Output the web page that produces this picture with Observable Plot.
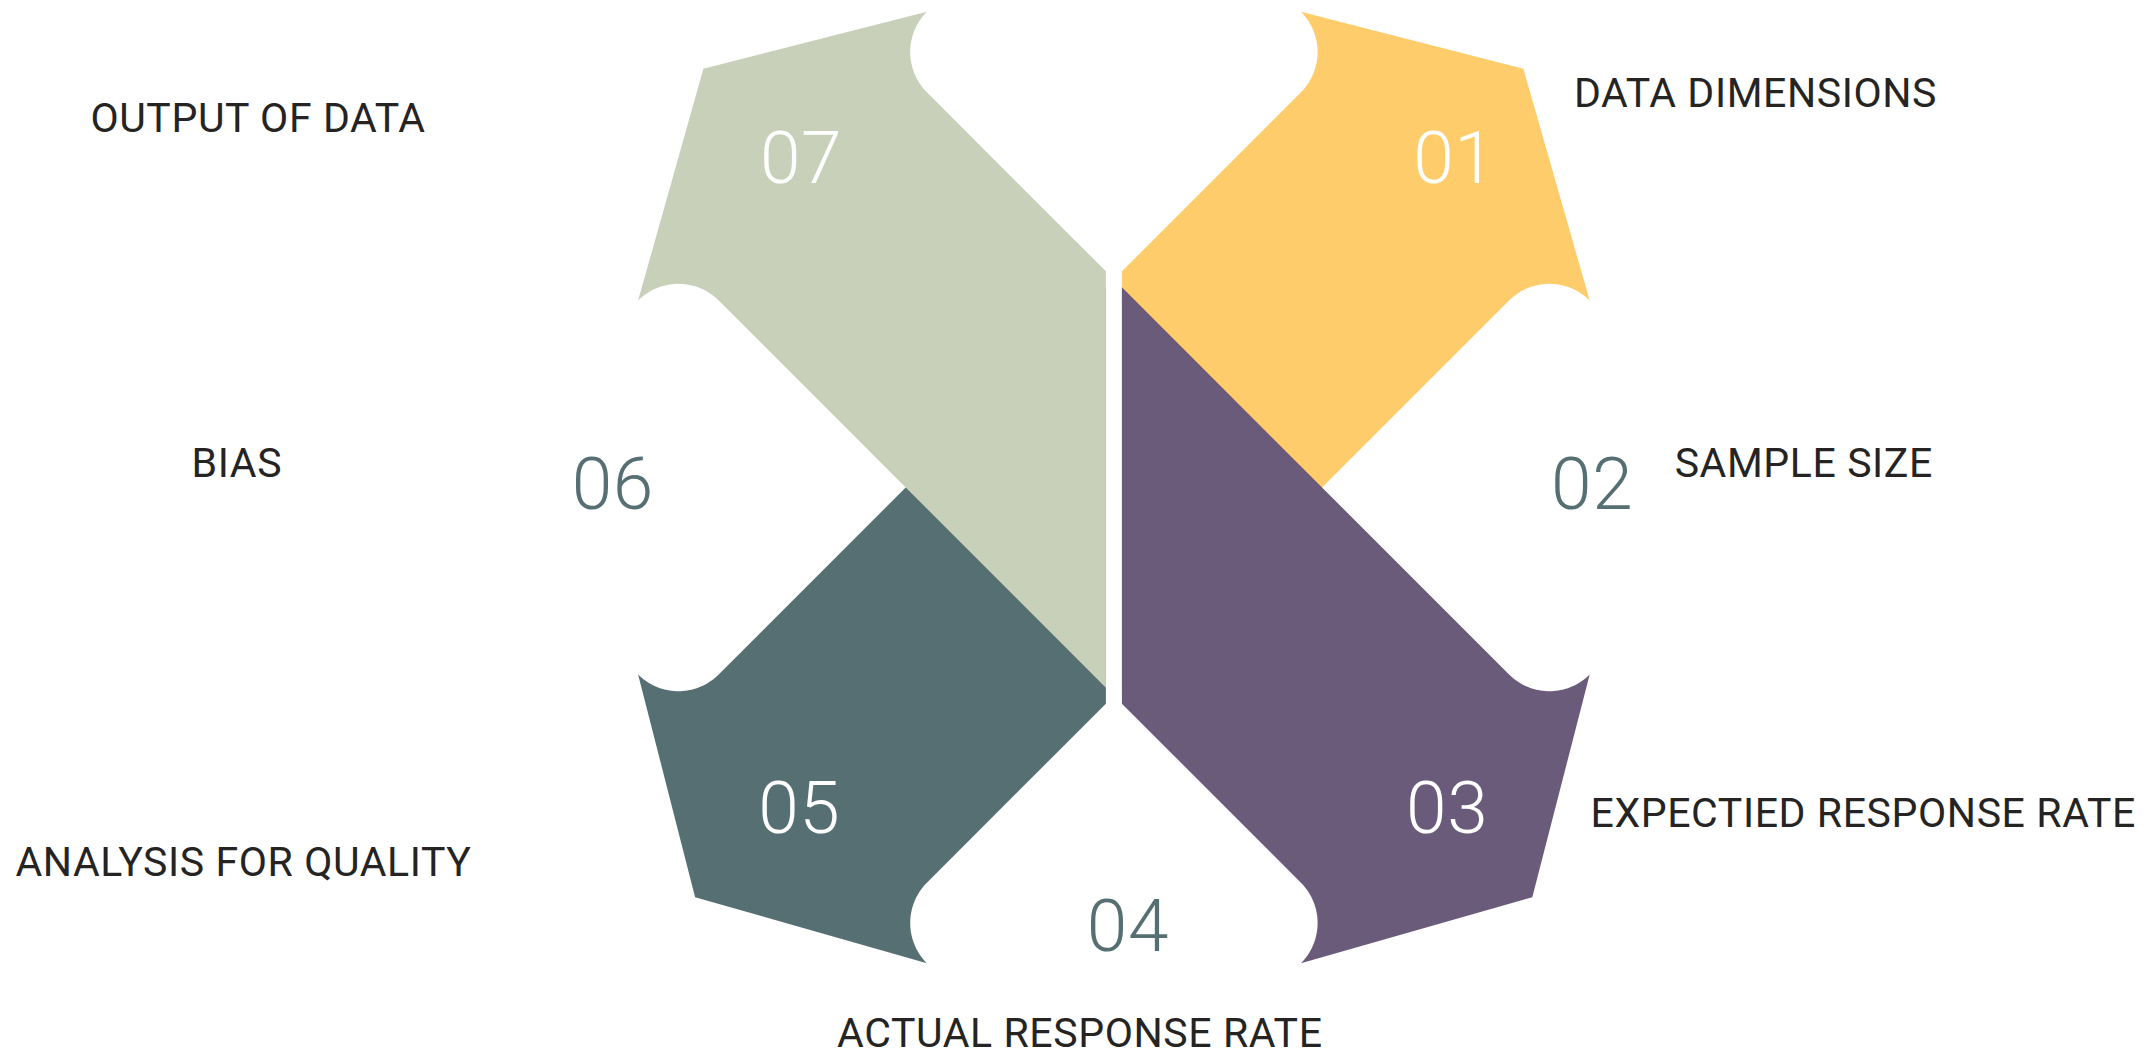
<!DOCTYPE html>
<html><head><meta charset="utf-8">
<script src="https://cdn.jsdelivr.net/npm/d3@7"></script>
<script src="https://cdn.jsdelivr.net/npm/@observablehq/plot@0.6"></script>
<style>html,body{margin:0;padding:0;background:#fff;} #chart svg{display:block}</style>
</head><body><div id="chart"></div>
<script>
// ---- Pieces (four petals of the diagram) ----
const pieceIds    = ["05", "01", "07", "03"];            // drawing order (lower layer first)
const pieceColors = ["#566F73", "#FFCC6B", "#C8D0B9", "#6B5B7A"];
const pieceSignX  = [-1, 1, -1, 1];
const pieceSignY  = [-1, 1, 1, -1];
const pieceCornerU = [418.8, 409.5, 410.5, 418.4];        // outer corner, in the petal's own frame
const pieceCornerV = [409.7, 418.7, 418.7, 409.7];
// notch (white circular bite) and centre gap
const notchCenterU = 146.7, notchCenterV = 435.5, notchRadius = 57;
const innerHalfGap = 8;

// ---- Step numbers ----
const numLabels = ["01", "02", "03", "04", "05", "06", "07"];
const numX      = [299.3, 437.2, 292.2, -27.1, -355.7, -542.2, -353.9];
const numY      = [304.3, -21.3, -345.3, -463.7, -345.3, -21.3, 304.3];
const numColors = ["#FFFFFF", "#566F73", "#FFFFFF", "#566F73", "#FFFFFF", "#566F73", "#FFFFFF"];

// ---- Step captions ----
const capTexts = ["DATA DIMENSIONS", "SAMPLE SIZE", "EXPECTIED RESPONSE RATE", "ACTUAL RESPONSE RATE",
                  "ANALYSIS FOR QUALITY", "BIAS", "OUTPUT OF DATA"];
const capX = [641.6, 689.9, 749.3, -34.1, -870.4, -877.1, -855.9];
const capY = [380.3, 10.3, -339.7, -559.7, -388.7, 10.3, 355.3];

// build petal outlines
function arc(cu, cv, r, a0, a1, n) {
  const out = [];
  for (let k = 0; k <= n; k++) {
    const t = (a0 + (a1 - a0) * k / n) * Math.PI / 180;
    out.push([cu + r * Math.cos(t), cv + r * Math.sin(t)]);
  }
  return out;
}
const petals = pieceIds.map((id, i) => {
  const d = notchCenterV - notchCenterU - 2 * notchRadius * Math.SQRT1_2;
  const g = innerHalfGap;
  const pts = [
    ...arc(notchCenterU, notchCenterV, notchRadius, 45, -45, 40),
    [g, g + d], [g, g - d],
    ...arc(notchCenterV, notchCenterU, notchRadius, 135, 45, 40),
    [pieceCornerU[i], pieceCornerV[i]]
  ];
  return {id, color: pieceColors[i], points: pts.map(([u, v]) => ({x: pieceSignX[i] * u, y: pieceSignY[i] * v}))};
});
const nums = numLabels.map((t, i) => ({t, x: numX[i], y: numY[i], c: numColors[i]}));
const caps = capTexts.map((t, i) => ({t, x: capX[i], y: capY[i]}));

const FONT = "Roboto, 'Noto Sans', sans-serif";
const chart = Plot.plot({
  width: 2154, height: 1053,
  margin: 0,
  style: {background: "#ffffff", overflow: "visible", letterSpacing: "0.6px"},
  x: {domain: [-1113.4, 1040.6], range: [0, 2154], axis: null},
  y: {domain: [-566, 487], range: [1053, 0], axis: null},
  marks: [
    ...petals.map(p => Plot.line(p.points, {x: "x", y: "y", fill: p.color, stroke: "none", curve: "linear-closed"})),
    Plot.text(nums, {x: "x", y: "y", text: "t", fill: "c", textAnchor: "start", lineAnchor: "bottom",
      fontSize: 73, fontWeight: 300, fontFamily: FONT}),
    Plot.text(caps, {x: "x", y: "y", text: "t", fill: "#252423", textAnchor: "middle", lineAnchor: "bottom",
      fontSize: 41, fontWeight: 400, fontFamily: FONT})
  ],
  color: {type: "identity"}
});
document.getElementById("chart").appendChild(chart);
</script>
</body></html>
